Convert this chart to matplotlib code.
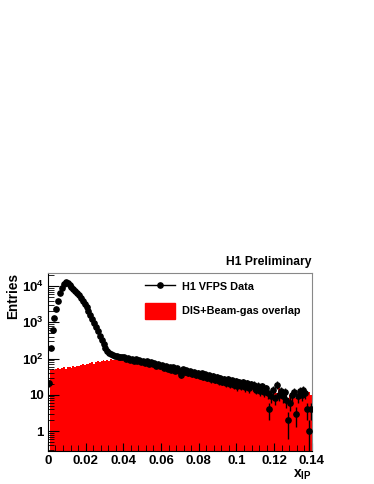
import numpy as np
import matplotlib
matplotlib.use("Agg")
import matplotlib.pyplot as plt
from matplotlib.lines import Line2D
from matplotlib.patches import Patch
from matplotlib.ticker import FixedLocator, AutoMinorLocator, LogLocator, NullFormatter

plt.rcParams['font.family'] = ['Liberation Sans', 'DejaVu Sans']
plt.rcParams['font.weight'] = 'bold'
plt.rcParams['mathtext.fontset'] = 'custom'
plt.rcParams['mathtext.rm'] = 'Liberation Sans:bold'
plt.rcParams['mathtext.it'] = 'Liberation Sans:bold'
plt.rcParams['mathtext.bf'] = 'Liberation Sans:bold'

# binning in x_IP
x_min, x_max, n_bins = 0.0, 0.14, 140

# H1 VFPS data, entries per bin
data_counts = [
    21, 200, 600, 1300, 2400, 4000, 6300, 9000, 11500, 12600,
    12300, 10800, 9600, 8500, 7500, 6600, 5600, 4700, 3900, 3200,
    2600, 2050, 1600, 1250, 960, 740, 560, 420, 320, 250,
    200, 165, 145, 130, 122, 115, 118, 110, 108, 112,
    108, 96, 104, 92, 100, 88, 97, 85, 92, 80,
    88, 76, 84, 72, 80, 69, 76, 64, 72, 61,
    66, 55, 63, 52, 60, 49, 57, 46, 55, 44,
    36, 50, 42, 47, 39, 45, 37, 43, 35, 41,
    33, 39, 31, 37, 29, 35, 27, 33, 26, 31,
    24, 30, 23, 28, 21, 27, 20, 25, 19, 24,
    17, 23, 18, 22, 16, 21, 15, 20, 17, 19,
    14, 18, 13, 17, 12, 15, 11, 4, 9, 14,
    8, 19, 10, 13, 9, 12, 7, 2, 6, 10,
    12, 3, 9, 13, 10, 14, 11, 4, 1, 4,
]

# DIS + beam-gas overlap simulation
overlap_counts = [
    0, 48, 52, 47, 50, 55, 51, 54, 58, 53,
    57, 60, 56, 62, 59, 64, 61, 66, 70, 65,
    72, 69, 75, 78, 73, 80, 84, 79, 86, 90,
    85, 92, 88, 95, 90, 93, 97, 89, 94, 91,
    87, 92, 86, 89, 83, 85, 80, 84, 78, 81,
    76, 73, 77, 70, 72, 68, 71, 65, 67, 62,
    64, 58, 61, 55, 57, 52, 54, 50, 52, 47,
    49, 45, 47, 43, 44, 41, 42, 39, 40, 37,
    38, 35, 36, 33, 34, 31, 32, 29, 30, 27,
    28, 26, 27, 24, 25, 23, 24, 22, 21, 22,
    20, 21, 19, 18, 19, 17, 18, 16, 17, 15,
    16, 14, 15, 13, 14, 12, 13, 11, 12, 10,
    13, 11, 15, 10, 12, 9, 11, 8, 10, 9,
    11, 8, 10, 9, 11, 8, 10, 9, 12, 10,
]

y_tick_vals = [1, 10, 100, 1000, 10000]
y_tick_labels = ['1', '10', r'$10^{2}$', r'$10^{3}$', r'$10^{4}$']

edges = np.linspace(x_min, x_max, n_bins + 1)
centers = 0.5 * (edges[:-1] + edges[1:])
data = np.array(data_counts, dtype=float)
overlap = np.array(overlap_counts, dtype=float)

fig = plt.figure(figsize=(3.74, 4.84), dpi=100)
ax = fig.add_axes([0.128, 0.068, 0.706, 0.368])

ax.stairs(overlap, edges, baseline=1e-3, fill=True, color='red', zorder=1)
ax.errorbar(centers, data, yerr=np.sqrt(data), fmt='o', color='black',
            ms=3.8, elinewidth=1.0, capsize=0, zorder=3)

ax.set_yscale('log')
ax.set_xlim(x_min, x_max)
ax.set_ylim(0.28, 2.3e4)

ax.xaxis.set_major_locator(FixedLocator(np.arange(0, 0.141, 0.02)))
ax.set_xticklabels(['0', '0.02', '0.04', '0.06', '0.08', '0.1', '0.12', '0.14'])
ax.xaxis.set_minor_locator(AutoMinorLocator(5))
ax.yaxis.set_major_locator(FixedLocator(y_tick_vals))
ax.set_yticklabels(y_tick_labels)
ax.yaxis.set_minor_locator(LogLocator(base=10, subs=np.arange(2, 10)))
ax.yaxis.set_minor_formatter(NullFormatter())

ax.tick_params(axis='both', which='major', direction='in', labelsize=9.5,
               pad=3, top=False, right=False)
ax.tick_params(axis='x', which='major', length=6)
ax.tick_params(axis='y', which='major', length=8)
ax.tick_params(axis='both', which='minor', direction='in', length=4,
               top=False, right=False)

for s in ['top', 'right']:
    ax.spines[s].set_color('#888888')

ax.set_ylabel('Entries', fontsize=9.8, fontweight='bold', loc='top', labelpad=1)
ax.set_xlabel(r'$x_{IP}$', fontsize=10, loc='right', labelpad=0)

ax.text(1.0, 1.03, 'H1 Preliminary', transform=ax.transAxes, ha='right',
        va='bottom', fontsize=8.7, fontweight='bold')

handles = [Line2D([], [], color='black', marker='o', ms=3.8, lw=1),
           Patch(facecolor='red', edgecolor='red')]
ax.legend(handles, ['H1 VFPS Data', 'DIS+Beam-gas overlap'],
          loc='upper left', bbox_to_anchor=(0.367, 0.966), frameon=False,
          fontsize=7.8, handlelength=2.75, handleheight=1.85,
          labelspacing=0.75, borderaxespad=0, borderpad=0, handletextpad=0.65)

fig.savefig('out.png', dpi=100)
